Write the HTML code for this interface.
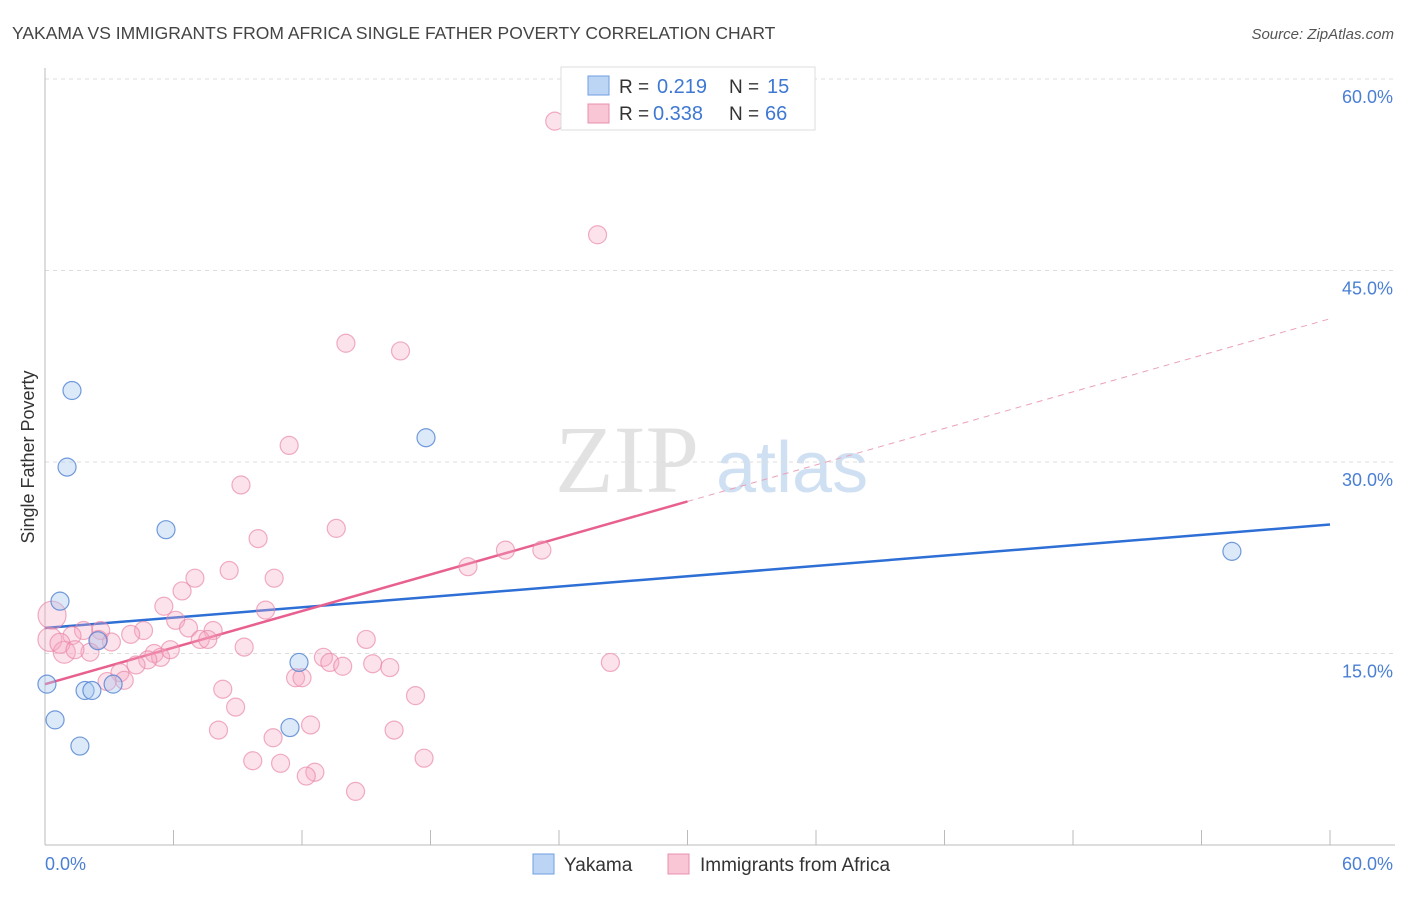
<!DOCTYPE html>
<html><head><meta charset="utf-8"><style>
body{margin:0;background:#fff;font-family:"Liberation Sans",sans-serif;}
svg text{font-family:"Liberation Sans",sans-serif;}
</style></head><body>
<svg id="chart" width="1406" height="892">
<text x="12" y="39" font-size="17.5" fill="#444">YAKAMA VS IMMIGRANTS FROM AFRICA SINGLE FATHER POVERTY CORRELATION CHART</text>
<text x="1394" y="39" font-size="15" fill="#555" font-style="italic" text-anchor="end">Source: ZipAtlas.com</text>
<text x="0" y="0" font-size="18" fill="#333" transform="translate(34,457) rotate(-90)" text-anchor="middle">Single Father Poverty</text>
<g>
<text x="555" y="492" font-size="96" fill="#e2e2e2" font-family="Liberation Serif" style="font-family:'Liberation Serif',serif">ZIP</text>
<text x="716" y="492" font-size="72" fill="#d0e0f3">atlas</text>
</g>
<g id="grid"></g>
<g id="axes"></g>
<g id="lines"></g>
<g id="points"></g>
<g>
<rect x="561" y="67" width="254" height="63" fill="#fff" stroke="#ddd"/>
<rect x="588" y="76" width="21" height="19" fill="#bcd5f5" stroke="#6f9ee0"/>
<rect x="588" y="104" width="21" height="19" fill="#f9c6d6" stroke="#e890ad"/>
<text x="619" y="93" font-size="19" fill="#333">R = </text><text x="657" y="93" font-size="20" fill="#3f78d2">0.219</text>
<text x="729" y="93" font-size="19" fill="#333">N = </text><text x="767" y="93" font-size="20" fill="#3f78d2">15</text>
<text x="619" y="120" font-size="19" fill="#333">R = </text><text x="653" y="120" font-size="20" fill="#3f78d2">0.338</text>
<text x="729" y="120" font-size="19" fill="#333">N = </text><text x="765" y="120" font-size="20" fill="#3f78d2">66</text>
</g>
<g>
<rect x="533" y="854" width="21" height="20" fill="#bcd5f5" stroke="#6f9ee0"/>
<text x="564" y="871" font-size="19" fill="#333">Yakama</text>
<rect x="668" y="854" width="21" height="20" fill="#f9c6d6" stroke="#e890ad"/>
<text x="700" y="871" font-size="19" fill="#333">Immigrants from Africa</text>
</g>
</svg>
<script>
const yTicks=[15,30,45,60];
const yTickLabels=["15.0%","30.0%","45.0%","60.0%"];
const xTickLabels=["0.0%","60.0%"];
const blueX=[0.09,0.7,1.03,1.26,0.47,1.63,1.87,2.19,2.47,3.18,5.65,11.86,11.44,17.79,55.42];
const blueY=[12.6,19.1,29.6,35.6,9.8,7.75,12.1,12.1,16.0,12.6,24.7,14.3,9.2,31.9,23.0];
const pinkX=[23.8,25.8,14.05,16.6,11.4,9.15,13.6,9.95,21.5,23.2,19.75,8.6,7.0,10.7,6.4,10.3,5.55,6.1,6.7,7.85,4.6,4.0,2.6,1.8,1.26,3.1,2.5,7.25,7.6,9.3,15.0,5.1,5.4,4.8,5.85,4.25,3.5,3.7,2.9,13.0,13.3,13.9,15.3,16.1,26.4,8.3,8.9,17.3,8.1,10.65,16.3,12.4,9.7,11.0,12.6,12.2,17.7,14.5,11.7,12.0,0.33,0.23,0.9,2.1,0.7,1.4];
const pinkY=[56.7,47.8,39.3,38.7,31.3,28.2,24.8,24.0,23.1,23.1,21.8,21.5,20.9,20.9,19.9,18.4,18.7,17.6,17.0,16.8,16.8,16.5,16.8,16.8,16.4,15.9,16.1,16.1,16.1,15.5,16.1,15.0,14.7,14.5,15.3,14.1,13.5,12.9,12.8,14.7,14.3,14.0,14.2,13.9,14.3,12.2,10.8,11.7,9.0,8.4,9.0,9.4,6.6,6.4,5.7,5.4,6.8,4.2,13.1,13.1,18.0,16.1,15.1,15.1,15.8,15.3];
const pinkR=[9,9,9,9,9,9,9,9,9,9,9,9,9,9,9,9,9,9,9,9,9,9,9,9,9,9,9,9,9,9,9,9,9,9,9,9,9,9,9,9,9,9,9,9,9,9,9,9,9,9,9,9,9,9,9,9,9,9,9,9,14,12,11,9,10,9];
const blueTrend=[17.0,0.135];
const pinkTrend=[12.6,0.477];
const NS="http://www.w3.org/2000/svg";
const X=v=>45+v*1285/60, Y=v=>845-v*766/60;
function mk(tag,attrs,parent){const e=document.createElementNS(NS,tag);for(const k in attrs)e.setAttribute(k,attrs[k]);document.getElementById(parent).appendChild(e);return e;}
yTicks.forEach((t,i)=>{
 const g=mk('line',{x1:45,x2:1395,y1:Y(t),y2:Y(t),stroke:'#ddd','stroke-dasharray':'4,4'},'grid');
 
 
 const l=mk('text',{x:1393,y:Y(t)+24,'font-size':18,fill:'#4a7fd4','text-anchor':'end'},'axes');
 l.textContent=yTickLabels[i];
 
 
});
let a=mk('line',{x1:45,x2:45,y1:68,y2:845,stroke:'#bbb'},'axes');


a=mk('line',{x1:45,x2:1395,y1:845,y2:845,stroke:'#bbb'},'axes');


for(let i=1;i<=10;i++){const t=mk('line',{x1:X(i*6),x2:X(i*6),y1:830,y2:845,stroke:'#bbb'},'axes');
 
 }
let xl=mk('text',{x:45,y:870,'font-size':18,fill:'#4a7fd4'},'axes');xl.textContent=xTickLabels[0];


xl=mk('text',{x:1393,y:870,'font-size':18,fill:'#4a7fd4','text-anchor':'end'},'axes');xl.textContent=xTickLabels[1];


pinkX.forEach((x,i)=>{const c=mk('circle',{cx:X(x),cy:Y(pinkY[i]),r:pinkR[i],fill:'rgba(246,168,194,0.33)',stroke:'rgba(232,130,165,0.65)','stroke-width':1.2},'points');
 
 });
blueX.forEach((x,i)=>{const c=mk('circle',{cx:X(x),cy:Y(blueY[i]),r:9,fill:'rgba(168,200,240,0.4)',stroke:'rgba(80,130,210,0.8)','stroke-width':1.2},'points');
 
 });
let t=mk('line',{x1:X(0),y1:Y(blueTrend[0]),x2:X(60),y2:Y(blueTrend[0]+blueTrend[1]*60),stroke:'#2e6fd6','stroke-width':2.5},'lines');


t=mk('line',{x1:X(0),y1:Y(pinkTrend[0]),x2:X(30),y2:Y(pinkTrend[0]+pinkTrend[1]*30),stroke:'#e8608f','stroke-width':2.5},'lines');


t=mk('line',{x1:X(30),y1:Y(pinkTrend[0]+pinkTrend[1]*30),x2:X(60),y2:Y(pinkTrend[0]+pinkTrend[1]*60),stroke:'#eaa0b8','stroke-width':1,'stroke-dasharray':'6,5'},'lines');


</script>
</body></html>
